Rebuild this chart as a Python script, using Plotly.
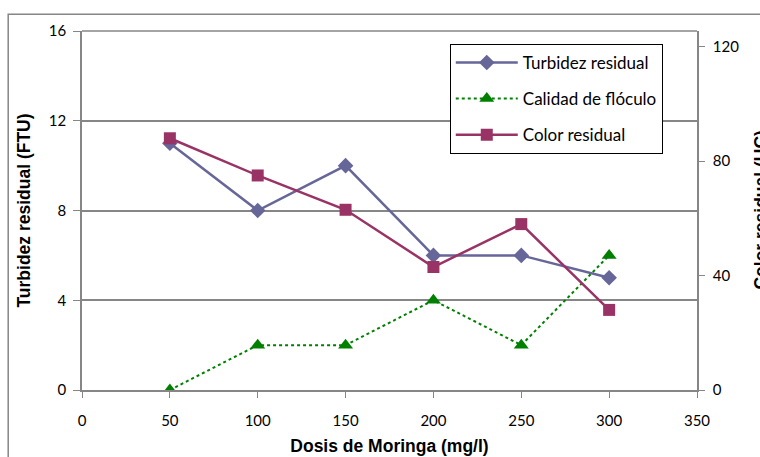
import plotly.graph_objects as go

# Dosis de Moringa (mg/l)
dosis = [50, 100, 150, 200, 250, 300]
# Turbidez residual (FTU)
turbidez = [11, 8, 10, 6, 6, 5]
# Calidad de flóculo (eje izquierdo)
calidad = [0, 2, 2, 4, 2, 6]
# Color residual (UC, eje derecho)
color_res = [88, 75, 63, 43, 58, 28]

left_ticks = [0, 4, 8, 12, 16]
right_ticks = [0, 40, 80, 120]
x_ticks = [0, 50, 100, 150, 200, 250, 300, 350]

tick_font = dict(family="Lato, Open Sans, sans-serif", size=15, color="#000000")
title_font = dict(family="Liberation Sans, Arial, sans-serif", size=17.5, color="#000000")
axis_grey = "#868686"

fig = go.Figure()
fig.add_trace(go.Scatter(
    x=dosis, y=turbidez, name="Turbidez residual", legendgroup="a",
    mode="lines+markers",
    line=dict(color="#666699", width=2.5),
    marker=dict(symbol="diamond", size=12, color="#666699"),
))
fig.add_trace(go.Scatter(
    x=dosis, y=calidad, name="Calidad de flóculo", legendgroup="b",
    mode="lines+markers",
    line=dict(color="#008000", width=2, dash="dot"),
    marker=dict(symbol="triangle-up", size=13, color="#008000"),
))
fig.add_trace(go.Scatter(
    x=dosis, y=color_res, name="Color residual", legendgroup="c",
    mode="lines+markers", yaxis="y2",
    line=dict(color="#993366", width=2.5),
    marker=dict(symbol="square", size=12, color="#993366"),
))

fig.update_layout(
    width=760, height=457,
    margin=dict(l=82, r=63, t=31, b=67),
    paper_bgcolor="white", plot_bgcolor="white",
    font=tick_font,
    xaxis=dict(
        range=[0, 350], tickvals=x_ticks, ticks="outside", ticklen=6,
        tickcolor=axis_grey, showgrid=False, zeroline=False,
        showline=True, linecolor=axis_grey, linewidth=1.5,
        tickfont=tick_font, ticklabelstandoff=10, automargin=False,
        title=dict(text="<b>Dosis de Moringa (mg/l)</b>", font=title_font, standoff=12),
    ),
    yaxis=dict(
        range=[0, 16], tickvals=left_ticks, ticks="outside", ticklen=7,
        tickcolor=axis_grey, showgrid=True, gridcolor=axis_grey, gridwidth=1.5,
        zeroline=False, showline=True, linecolor=axis_grey, linewidth=1.5,
        tickfont=tick_font, ticklabelstandoff=4, automargin=False,
        title=dict(text="<b>Turbidez residual (FTU)</b>", font=title_font, standoff=14),
    ),
    yaxis2=dict(
        range=[0, 125.5], tickvals=right_ticks, ticks="outside", ticklen=6,
        tickcolor=axis_grey, overlaying="y", side="right", showgrid=False,
        zeroline=False, showline=True, linecolor=axis_grey, linewidth=1.5,
        tickfont=tick_font, ticklabelstandoff=5, automargin=False,
    ),
    legend=dict(
        x=0.598, y=0.964, xanchor="left", yanchor="top",
        bgcolor="white", bordercolor="#000000", borderwidth=1,
        font=dict(family="Lato, Open Sans, sans-serif", size=17, color="#000000"),
        tracegroupgap=11, itemwidth=62,
    ),
    showlegend=True,
)

# Right axis title
fig.add_annotation(
    text="<b>Color residual (UC)</b>", font=title_font,
    xref="paper", yref="paper", x=1.083, y=0.5,
    xanchor="left", yanchor="middle", textangle=-90, showarrow=False,
)

# Top border of the plot area and the outer chart frame
fig.add_shape(type="line", xref="paper", yref="paper", x0=0, x1=1, y0=1, y1=1,
              line=dict(color=axis_grey, width=1.5))
fig.add_shape(type="rect", xref="paper", yref="paper",
              x0=-0.120, x1=1.25, y0=-0.3, y1=1.047,
              line=dict(color=axis_grey, width=1.5), layer="below")

fig.write_html("out.html")
